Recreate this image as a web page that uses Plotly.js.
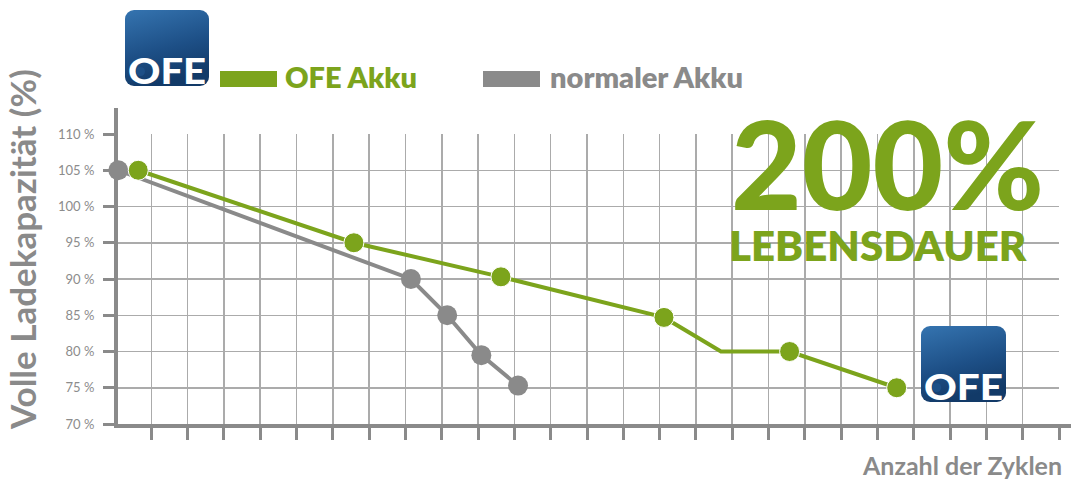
<!DOCTYPE html>
<html>
<head>
<meta charset="utf-8">
<script src="https://cdn.plot.ly/plotly-3.0.1.min.js"></script>
<style>html,body{margin:0;padding:0;background:#fff;}#chart{width:1071px;height:479px;}</style>
</head>
<body>
<div id="chart"></div>
<script>
// ---- data ----
const ofeCycles   = [0.64, 6.58, 10.63, 15.12, 16.69, 18.58, 21.53];
const ofeCapacity = [105, 95, 90.3, 84.7, 80, 80, 75];
const ofeMeasured = [true, true, true, true, false, true, true];

const normCycles   = [0.09, 8.15, 9.15, 10.09, 11.1];
const normCapacity = [105, 90, 85, 79.5, 75.3];

const yTickValues = [70, 75, 80, 85, 90, 95, 100, 105, 110];
const yTickLabels = ['70 %', '75 %', '80 %', '85 %', '90 %', '95 %', '100 %', '105 %', '110 %'];
const xTickValues = [1,2,3,4,5,6,7,8,9,10,11,12,13,14,15,16,17,18,19,20,21,22,23,24,25,26];

const seriesNames = ['OFE Akku', 'normaler Akku'];
const yTitle = 'Volle Ladekapazität (%)';
const xTitle = 'Anzahl der Zyklen';
const headline = '200%';
const subline = 'LEBENSDAUER';

// ---- style ----
const GREEN = '#7ca41c';
const GRAY = '#8a8a8a';
const FONT = 'Lato, "Open Sans", sans-serif';

const W = 1071, H = 479;
const L = 118, R = 1059, T = 134, B = 424;
const X0PX = 115; // pixel where cycle 0 sits
const UNIT = (R - X0PX) / 26;
const px = x => (x - L) / (R - L);
const py = y => (B - y) / (B - T);

function logoSrc() {
  const svg = '<svg xmlns="http://www.w3.org/2000/svg" width="84" height="76" viewBox="0 0 84 76">' +
    '<defs><linearGradient id="g" x1="0" y1="0" x2="0.3" y2="1">' +
    '<stop offset="0" stop-color="#3574b0"/><stop offset="0.6" stop-color="#1d4f86"/><stop offset="1" stop-color="#123a68"/>' +
    '</linearGradient><clipPath id="c"><rect width="84" height="76" rx="9"/></clipPath></defs>' +
    '<rect width="84" height="76" rx="9" fill="url(#g)"/>' +
    '<g clip-path="url(#c)"><text x="42" y="74" text-anchor="middle" font-family="Lato, DejaVu Sans" font-weight="900" font-size="36" fill="#ffffff" textLength="78" lengthAdjust="spacingAndGlyphs">OFE</text>' +
    '<circle cx="15.5" cy="61.5" r="4.5" fill="#1d4f86"/></g></svg>';
  return 'data:image/svg+xml;charset=utf-8,' + encodeURIComponent(svg);
}

const traces = [
  {
    x: normCycles, y: normCapacity, name: seriesNames[1], type: 'scatter', mode: 'lines+markers',
    line: {color: GRAY, width: 4}, marker: {color: GRAY, size: 20, opacity: 1}, showlegend: false, cliponaxis: false
  },
  {
    x: ofeCycles, y: ofeCapacity, name: seriesNames[0], type: 'scatter', mode: 'lines+markers',
    line: {color: GREEN, width: 4},
    marker: {color: GREEN, size: ofeMeasured.map(m => m ? 20 : 0), opacity: 1, sizemode: 'diameter'},
    showlegend: false, cliponaxis: false
  }
];

const layout = {
  width: W, height: H,
  margin: {l: L, r: W - R, t: T, b: H - B, pad: 0},
  paper_bgcolor: '#ffffff', plot_bgcolor: '#ffffff',
  showlegend: false,
  xaxis: {
    range: [(L - X0PX) / UNIT, 26], tickmode: 'array', tickvals: xTickValues, showticklabels: false,
    ticks: 'outside', ticklen: 12, tickwidth: 3, tickcolor: GRAY,
    showgrid: true, gridcolor: '#ababab', gridwidth: 1.5,
    showline: true, linecolor: GRAY, linewidth: 4, layer: 'below traces',
    zeroline: false, fixedrange: true
  },
  yaxis: {
    range: [70, 110], tickmode: 'array', tickvals: yTickValues, ticktext: yTickLabels,
    ticks: 'outside', ticklen: 11, tickwidth: 3, tickcolor: GRAY, ticklabelstandoff: 6,
    tickfont: {family: FONT, size: 13, color: '#8c8c8c'},
    showgrid: true, gridcolor: '#ababab', gridwidth: 1.5,
    showline: true, linecolor: GRAY, linewidth: 4, layer: 'below traces',
    zeroline: false, fixedrange: true
  },
  shapes: [
    {type: 'line', xref: 'paper', yref: 'paper', x0: px(L - 2), x1: px(L - 2), y0: 1, y1: py(108), line: {color: GRAY, width: 4}},
    {type: 'line', xref: 'paper', yref: 'paper', x0: 1, x1: px(W), y0: py(B + 2), y1: py(B + 2), line: {color: GRAY, width: 4}},
    {type: 'rect', xref: 'paper', yref: 'paper', x0: px(220), x1: px(277), y0: py(87), y1: py(71), fillcolor: GREEN, line: {width: 0}},
    {type: 'rect', xref: 'paper', yref: 'paper', x0: px(483), x1: px(540), y0: py(87), y1: py(71), fillcolor: GRAY, line: {width: 0}}
  ],
  annotations: [
    {text: seriesNames[0], xref: 'paper', yref: 'paper', x: px(283), y: py(77), xanchor: 'left', yanchor: 'middle', showarrow: false,
     font: {family: FONT, size: 29, color: GREEN, weight: 800}},
    {text: seriesNames[1], xref: 'paper', yref: 'paper', x: px(548), y: py(77), xanchor: 'left', yanchor: 'middle', showarrow: false,
     font: {family: FONT, size: 29, color: GRAY, weight: 800}},
    {text: headline, xref: 'paper', yref: 'paper', x: px(887), y: py(163), xanchor: 'center', yanchor: 'middle', showarrow: false,
     font: {family: FONT, size: 122, color: GREEN, weight: 900}},
    {text: subline, xref: 'paper', yref: 'paper', x: px(878), y: py(245), xanchor: 'center', yanchor: 'middle', showarrow: false,
     font: {family: FONT, size: 42, color: GREEN, weight: 800}},
    {text: yTitle, xref: 'paper', yref: 'paper', x: px(22), y: py(250), xanchor: 'center', yanchor: 'middle', textangle: -90, showarrow: false,
     font: {family: FONT, size: 35, color: GRAY, weight: 'bold'}},
    {text: xTitle, xref: 'paper', yref: 'paper', x: px(1064), y: py(465), xanchor: 'right', yanchor: 'middle', showarrow: false,
     font: {family: FONT, size: 25, color: GRAY, weight: 'bold'}}
  ],
  images: [
    {source: logoSrc(), xref: 'paper', yref: 'paper', x: px(125), y: py(10), sizex: px(209) - px(125), sizey: py(10) - py(86),
     xanchor: 'left', yanchor: 'top', sizing: 'stretch', layer: 'above'},
    {source: logoSrc(), xref: 'paper', yref: 'paper', x: px(921), y: py(326), sizex: px(1006) - px(921), sizey: py(326) - py(402),
     xanchor: 'left', yanchor: 'top', sizing: 'stretch', layer: 'above'}
  ]
};

Plotly.newPlot('chart', traces, layout, {staticPlot: true, displayModeBar: false});
</script>
</body>
</html>
